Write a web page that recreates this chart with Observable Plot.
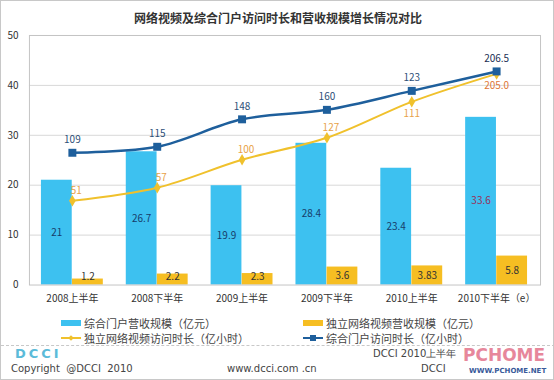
<!DOCTYPE html>
<html>
<head>
<meta charset="utf-8">
<script src="https://cdn.jsdelivr.net/npm/d3@7"></script>
<script src="https://cdn.jsdelivr.net/npm/@observablehq/plot@0.6"></script>
<style>
  html, body { margin: 0; padding: 0; background: #fff; }
  #wrap { position: relative; width: 554px; height: 380px; box-sizing: border-box; border: 1px solid #c8c8c8; overflow: hidden; font-family: "Noto Sans CJK SC", "DejaVu Sans", sans-serif; }
  #title { position: absolute; left: 0; top: 0; width: 554px; height: 26px; line-height: 26px; padding-top: 4px; box-sizing: border-box; text-align: center; font-size: 12px; font-weight: bold; color: #333; }
  #chart { position: absolute; left: -1px; top: 25px; }
  .leg { position: absolute; font-size: 11px; color: #444; white-space: nowrap; line-height: 14px; }
  .sw { position: absolute; }
  #dash { position: absolute; left: 0; top: 344px; width: 554px; border-top: 1px dashed #c8c8c8; }
  .foot { position: absolute; font-size: 10px; color: #444; white-space: nowrap; font-family: "DejaVu Sans", sans-serif; line-height: 12px; }
</style>
</head>
<body>
<div id="wrap">
  <div id="title">网络视频及综合门户访问时长和营收规模增长情况对比</div>
  <div id="chart"></div>
  <div id="legend"></div>
  <div id="dash"></div>
  <div class="foot" style="left:14px;top:346px;font-size:13px;line-height:13px;font-weight:bold;color:#5bbbd9;letter-spacing:3px;">DCCI</div>
  <div class="foot" style="left:10px;top:362px;">Copyright &nbsp;@DCCI &nbsp;2010</div>
  <div class="foot" style="left:226px;top:362px;">www.dcci.com .cn</div>
  <div class="foot" style="left:372px;top:347px;">DCCI 2010上半年</div>
  <div class="foot" style="left:420px;top:362px;">DCCI</div>
  <div class="foot" style="left:462px;top:345px;font-size:17px;line-height:18px;font-weight:bold;color:#e0607a;opacity:0.75;">PCHOME</div>
  <div class="foot" style="left:468px;top:366px;font-size:7px;line-height:8px;font-weight:bold;color:#3a5a9a;">WWW.PCHOME.NET</div>
</div>
<script>
const categories = ["2008上半年", "2008下半年", "2009上半年", "2009下半年", "2010上半年", "2010下半年（e）"];
const portalRevenue = [21, 26.7, 19.9, 28.4, 23.4, 33.6];
const videoRevenue = [1.2, 2.2, 2.3, 3.6, 3.83, 5.8];
// line positions as drawn on the left axis
const portalTimePos = [26.5, 27.7, 33.2, 35.1, 38.9, 42.8];
const videoTimePos = [16.9, 19.5, 25.1, 29.5, 36.7, 42.3];
// point labels shown on the lines
const portalTimeLabels = ["109", "115", "148", "160", "123", "206.5"];
const videoTimeLabels = ["51", "57", "100", "127", "111", "205.0"];
const yTicks = [0, 10, 20, 30, 40, 50];
const legendLabels = ["综合门户营收规模（亿元）", "独立网络视频营收规模（亿元）", "独立网络视频访问时长（亿小时）", "综合门户访问时长（亿小时）"];

const BLUE_BAR = "#3dc1f0";
const YEL_BAR = "#f6be22";
const BLUE_LINE = "#1e5f9c";
const YEL_LINE = "#f0c12c";

const rows = categories.map((c, i) => ({
  cat: c, portal: portalRevenue[i], video: videoRevenue[i],
  pt: portalTimePos[i], vt: videoTimePos[i],
  ptl: portalTimeLabels[i], vtl: videoTimeLabels[i], i
}));

const W = 554, H = 284, mL = 29, mR = 13, mT = 9, mB = 25;
const step = (W - mL - mR) / 6;
const bw = step * 0.73;
const half = bw / 2;

const plot = Plot.plot({
  width: W, height: H,
  marginLeft: mL, marginRight: mR, marginTop: mT, marginBottom: mB,
  style: { fontFamily: "'Noto Sans CJK SC', 'DejaVu Sans', sans-serif", fontSize: "10px", color: "#333", background: "#fff" },
  x: { domain: categories, paddingInner: 0.27, paddingOuter: 0.135, label: null },
  y: { domain: [0, 50], label: null },
  marks: [
    Plot.ruleY([10, 20, 30, 40], { stroke: "#d8d8d8" }),
    Plot.barY(rows, { x: "cat", y: "portal", fill: BLUE_BAR, insetRight: half }),
    Plot.barY(rows, { x: "cat", y: "video", fill: YEL_BAR, insetLeft: half }),
    Plot.frame({ stroke: "#c4c4c4" }),
    Plot.axisX({ tickSize: 0, tickPadding: 10, fontSize: 10, fill: "#333" }),
    Plot.axisY({ ticks: yTicks, tickSize: 0, tickPadding: 11, fontSize: 10, fill: "#333" }),
    // bar labels
    Plot.text(rows, { x: "cat", y: d => d.portal / 2, text: d => String(d.portal), dx: -half / 2, fill: d => d.i === 5 ? "#9a2f5a" : "#173d6b", fontSize: 10 }),
    Plot.text(rows, { x: "cat", y: d => Math.max(d.video / 2, 1.6), text: d => String(d.video), dx: half / 2, fill: "#333", fontSize: 10 }),
    // lines
    Plot.line(rows, { x: "cat", y: "vt", stroke: YEL_LINE, strokeWidth: 2, curve: "catmull-rom" }),
    Plot.dot(rows, { x: "cat", y: "vt", symbol: "diamond", r: 3.5, fill: YEL_LINE }),
    Plot.line(rows, { x: "cat", y: "pt", stroke: BLUE_LINE, strokeWidth: 2.5, curve: "catmull-rom" }),
    Plot.dot(rows, { x: "cat", y: "pt", symbol: "square", r: 4.5, fill: BLUE_LINE }),
    // line labels
    Plot.text(rows, { x: "cat", y: "pt", text: "ptl", dy: -13, fill: d => d.i === 5 ? "#1b2f55" : "#2d4f78", fontWeight: d => d.i === 5 ? "bold" : "normal", fontSize: 10 }),
    Plot.text(rows.filter(d => d.i < 4), { x: "cat", y: "vt", text: "vtl", dx: 4, dy: -10, fill: "#e8a248", fontSize: 10 }),
    Plot.text(rows.filter(d => d.i >= 4), { x: "cat", y: "vt", text: "vtl", dy: 12, fill: d => d.i === 5 ? "#e07838" : "#e8a248", fontWeight: d => d.i === 5 ? "bold" : "normal", fontSize: 10 })
  ]
});
document.getElementById("chart").appendChild(plot);

// legend
const leg = document.getElementById("legend");
const items = [
  { x: 60, y: 315, type: "bar", color: BLUE_BAR },
  { x: 302, y: 315, type: "bar", color: YEL_BAR },
  { x: 60, y: 330, type: "line", color: YEL_LINE, mark: "diamond" },
  { x: 302, y: 330, type: "line", color: BLUE_LINE, mark: "square" }
];
items.forEach((it, k) => {
  if (it.type === "bar") {
    const s = document.createElement("div");
    s.className = "sw";
    s.style.cssText = `left:${it.x}px;top:${it.y + 4}px;width:20px;height:6px;background:${it.color};`;
    leg.appendChild(s);
  } else {
    const s = document.createElement("div");
    s.className = "sw";
    s.style.cssText = `left:${it.x}px;top:${it.y + 6}px;width:20px;height:2px;background:${it.color};`;
    leg.appendChild(s);
    const m = document.createElement("div");
    m.className = "sw";
    if (it.mark === "square") {
      m.style.cssText = `left:${it.x + 7}px;top:${it.y + 4}px;width:6px;height:6px;background:${it.color};`;
    } else {
      m.style.cssText = `left:${it.x + 8}px;top:${it.y + 5}px;width:4px;height:4px;background:${it.color};transform:rotate(45deg);`;
    }
    leg.appendChild(m);
  }
  const t = document.createElement("div");
  t.className = "leg";
  t.style.left = (it.x + 23) + "px";
  t.style.top = it.y + "px";
  t.textContent = legendLabels[k];
  leg.appendChild(t);
});
</script>
</body>
</html>
